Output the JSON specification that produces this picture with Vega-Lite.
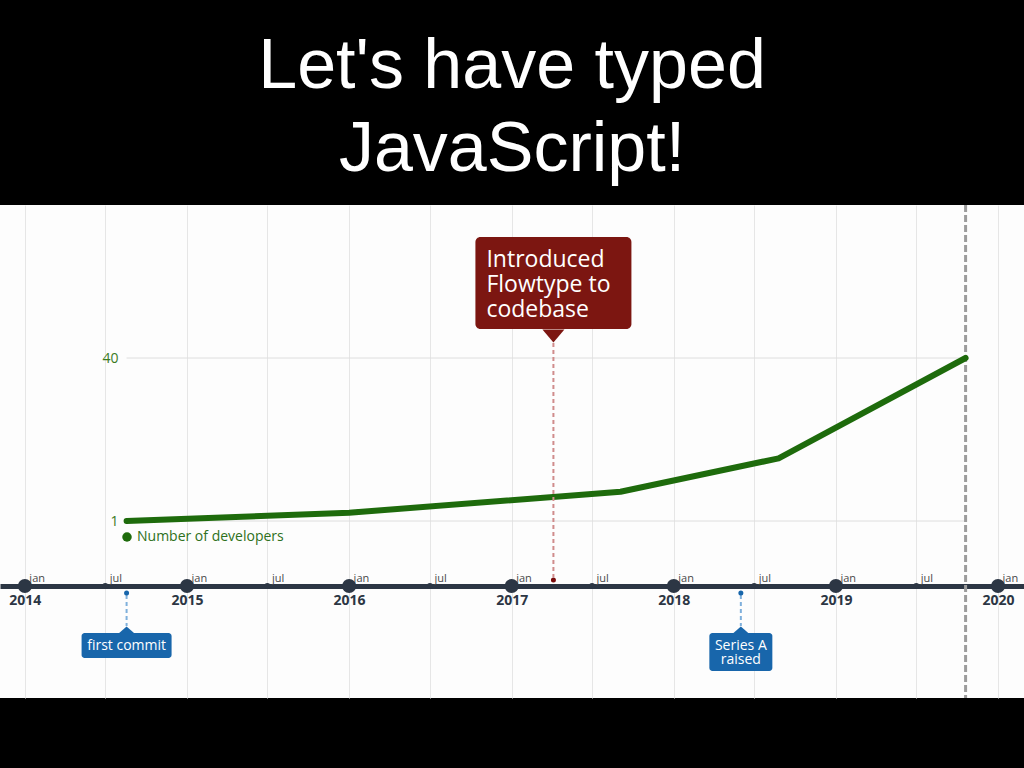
{
  "$schema": "https://vega.github.io/schema/vega-lite/v6.json",
  "width": 1024,
  "height": 493,
  "autosize": {"type": "none"},
  "padding": {"top": 205, "bottom": 70, "left": 0, "right": 0},
  "background": "#000000",
  "view": {"fill": "#fdfdfd", "stroke": null},
  "title": {
    "text": ["Let's have typed", "JavaScript!"],
    "font": "Liberation Sans",
    "fontSize": 70,
    "fontWeight": "normal",
    "color": "#ffffff",
    "anchor": "middle",
    "frame": "group",
    "lineHeight": 83,
    "baseline": "alphabetic",
    "offset": -37
  },
  "config": {"font": "Open Sans"},
  "datasets": {
    "dev": [
      {"date": "2014-08-18", "developers": 1},
      {"date": "2016-01-01", "developers": 3},
      {"date": "2017-09-03", "developers": 8},
      {"date": "2018-08-25", "developers": 16},
      {"date": "2019-10-20", "developers": 40}
    ],
    "timeline": [
      {"date": "2014-01-01", "kind": "year"},
      {"date": "2014-07-01", "kind": "half"},
      {"date": "2015-01-01", "kind": "year"},
      {"date": "2015-07-01", "kind": "half"},
      {"date": "2016-01-01", "kind": "year"},
      {"date": "2016-07-01", "kind": "half"},
      {"date": "2017-01-01", "kind": "year"},
      {"date": "2017-07-01", "kind": "half"},
      {"date": "2018-01-01", "kind": "year"},
      {"date": "2018-07-01", "kind": "half"},
      {"date": "2019-01-01", "kind": "year"},
      {"date": "2019-07-01", "kind": "half"},
      {"date": "2020-01-01", "kind": "year"}
    ],
    "events": [
      {"date": "2014-08-18", "event": "first commit", "group": "first"},
      {"date": "2017-04-05", "event": "Introduced\nFlowtype to\ncodebase", "group": "flow"},
      {"date": "2018-06-01", "event": "Series A\nraised", "group": "series"}
    ],
    "today": [{"date": "2019-10-20", "label": "now"}],
    "ygrid": [{"v": 1}, {"v": 40}]
  },
  "resolve": {"axis": {"x": "independent", "y": "independent"}},
  "layer": [
    {
      "data": {"name": "ygrid"},
      "mark": {"type": "rule", "color": "#dedede", "strokeWidth": 1},
      "encoding": {
        "x": {"datum": {"year": 2014, "month": 8, "date": 18, "utc": true}, "type": "temporal", "axis": null},
        "x2": {"datum": {"year": 2019, "month": 10, "date": 20, "utc": true}},
        "y": {"field": "v", "type": "quantitative", "axis": null}
      }
    },
    {
      "data": {"name": "today"},
      "mark": {"type": "rule", "color": "#9c9c9c", "strokeWidth": 3, "strokeDash": [7, 3]},
      "encoding": {
        "x": {"field": "date", "type": "temporal", "axis": null}
      }
    },
    {
      "data": {"name": "dev"},
      "mark": {"type": "line", "strokeWidth": 6, "strokeCap": "round", "strokeJoin": "round"},
      "encoding": {
        "x": {
          "field": "date",
          "type": "temporal",
          "scale": {"type": "utc", "domain": [{"year": 2013, "month": 11, "date": 6, "utc": true}, {"year": 2020, "month": 2, "date": 28, "hours": 12, "utc": true}]},
          "axis": {
            "orient": "bottom",
            "offset": -112,
            "values": [
              {"year": 2014, "month": 1, "date": 1, "utc": true},
              {"year": 2014, "month": 7, "date": 1, "utc": true},
              {"year": 2015, "month": 1, "date": 1, "utc": true},
              {"year": 2015, "month": 7, "date": 1, "utc": true},
              {"year": 2016, "month": 1, "date": 1, "utc": true},
              {"year": 2016, "month": 7, "date": 1, "utc": true},
              {"year": 2017, "month": 1, "date": 1, "utc": true},
              {"year": 2017, "month": 7, "date": 1, "utc": true},
              {"year": 2018, "month": 1, "date": 1, "utc": true},
              {"year": 2018, "month": 7, "date": 1, "utc": true},
              {"year": 2019, "month": 1, "date": 1, "utc": true},
              {"year": 2019, "month": 7, "date": 1, "utc": true},
              {"year": 2020, "month": 1, "date": 1, "utc": true}
            ],
            "labelExpr": "utcmonth(datum.value) == 0 ? utcFormat(datum.value, '%Y') : ''",
            "domainColor": "#2c3644",
            "domainWidth": 5,
            "ticks": false,
            "grid": true,
            "gridColor": "#e6e6e6",
            "gridWidth": 1,
            "labelFont": "Open Sans",
            "labelFontWeight": "bold",
            "labelFontSize": 14,
            "labelColor": "#2c3644",
            "labelPadding": 7,
            "labelBaseline": "top",
            "labelAlign": "center",
            "labelFlush": false,
            "labelOverlap": false,
            "title": null
          }
        },
        "y": {
          "field": "developers",
          "type": "quantitative",
          "scale": {"domain": [-41.35, 76.61], "nice": false, "zero": false},
          "axis": {
            "orient": "left",
            "offset": -123,
            "values": [1, 40],
            "domain": false,
            "ticks": false,
            "grid": false,
            "labelColor": "#3b7a1e",
            "labelFontSize": 14,
            "labelFont": "Open Sans",
            "labelPadding": 5,
            "title": null
          }
        },
        "color": {
          "datum": "Number of developers",
          "type": "nominal",
          "scale": {"range": ["#1e6b0c"]},
          "legend": {
            "orient": "none",
            "legendX": 120,
            "legendY": 325,
            "title": null,
            "symbolType": "circle",
            "symbolSize": 90,
            "labelOffset": 3,
            "labelColor": "#2e7020",
            "labelFont": "Open Sans",
            "labelFontSize": 14,
            "encode": {"symbols": {"update": {"fill": {"value": "#1e6b0c"}, "strokeWidth": {"value": 0}}}}
          }
        }
      }
    },
    {
      "data": {"name": "timeline"},
      "mark": {"type": "point", "filled": true, "opacity": 1, "color": "#2c3644"},
      "encoding": {
        "x": {
          "field": "date",
          "type": "temporal",
          "axis": {
            "orient": "top",
            "offset": -381,
            "values": [
              {"year": 2014, "month": 1, "date": 1, "utc": true},
              {"year": 2014, "month": 7, "date": 1, "utc": true},
              {"year": 2015, "month": 1, "date": 1, "utc": true},
              {"year": 2015, "month": 7, "date": 1, "utc": true},
              {"year": 2016, "month": 1, "date": 1, "utc": true},
              {"year": 2016, "month": 7, "date": 1, "utc": true},
              {"year": 2017, "month": 1, "date": 1, "utc": true},
              {"year": 2017, "month": 7, "date": 1, "utc": true},
              {"year": 2018, "month": 1, "date": 1, "utc": true},
              {"year": 2018, "month": 7, "date": 1, "utc": true},
              {"year": 2019, "month": 1, "date": 1, "utc": true},
              {"year": 2019, "month": 7, "date": 1, "utc": true},
              {"year": 2020, "month": 1, "date": 1, "utc": true}
            ],
            "labelExpr": "utcmonth(datum.value) == 0 ? 'jan' : 'jul'",
            "domain": false,
            "ticks": false,
            "grid": false,
            "labelAlign": "left",
            "labelOffset": 4,
            "labelBaseline": "alphabetic",
            "labelPadding": 5,
            "labelFontSize": 11,
            "labelColor": "#4a4a4a",
            "labelFont": "Open Sans",
            "labelFlush": false,
            "labelOverlap": false,
            "title": null
          }
        },
        "y": {"datum": -14.55, "type": "quantitative", "axis": null},
        "size": {"field": "kind", "type": "nominal", "scale": {"domain": ["year", "half"], "range": [196, 36]}, "legend": null}
      }
    },
    {
      "data": {"name": "events"},
      "transform": [{"filter": "datum.group == 'flow'"}],
      "layer": [
        {
          "mark": {"type": "rule", "color": "#d08c8c", "strokeWidth": 2, "strokeDash": [4, 3]},
          "encoding": {
            "x": {"field": "date", "type": "temporal", "axis": null},
            "y": {"datum": 43.59, "type": "quantitative", "axis": null},
            "y2": {"datum": -12.39}
          }
        },
        {
          "mark": {"type": "point", "filled": true, "opacity": 1, "size": 25, "color": "#7a0c0c"},
          "encoding": {
            "x": {"field": "date", "type": "temporal", "axis": null},
            "y": {"datum": -13.11, "type": "quantitative", "axis": null}
          }
        },
        {
          "mark": {"type": "rect", "width": 156, "height": 92, "cornerRadius": 5, "color": "#7c1611"},
          "encoding": {
            "x": {"field": "date", "type": "temporal", "axis": null},
            "y": {"datum": 57.95, "type": "quantitative", "axis": null}
          }
        },
        {
          "mark": {"type": "point", "shape": "M -1 -0.6 L 1 -0.6 L 0 0.6 Z", "filled": true, "opacity": 1, "size": 484, "color": "#7c1611"},
          "encoding": {
            "x": {"field": "date", "type": "temporal", "axis": null},
            "y": {"datum": 45.27, "type": "quantitative", "axis": null}
          }
        },
        {
          "mark": {"type": "text", "align": "left", "dx": -67, "dy": -23, "baseline": "middle", "lineBreak": "\n", "lineHeight": 25, "fontSize": 23, "color": "#ffffff", "font": "Open Sans"},
          "encoding": {
            "x": {"field": "date", "type": "temporal", "axis": null},
            "y": {"datum": 57.95, "type": "quantitative", "axis": null},
            "text": {"field": "event"}
          }
        }
      ]
    },
    {
      "data": {"name": "events"},
      "transform": [{"filter": "datum.group != 'flow'"}],
      "layer": [
        {
          "mark": {"type": "rule", "color": "#7fb0dc", "strokeWidth": 2, "strokeDash": [4, 3]},
          "encoding": {
            "x": {"field": "date", "type": "temporal", "axis": null},
            "y": {"datum": -16.7, "type": "quantitative", "axis": null},
            "y2": {"datum": -24.12}
          }
        },
        {
          "mark": {"type": "point", "filled": true, "opacity": 1, "size": 25, "color": "#1866ab"},
          "encoding": {
            "x": {"field": "date", "type": "temporal", "axis": null},
            "y": {"datum": -16.22, "type": "quantitative", "axis": null}
          }
        },
        {
          "mark": {"type": "point", "shape": "M -1 0.45 L 1 0.45 L 0 -0.45 Z", "filled": true, "opacity": 1, "size": 256, "color": "#1866ab"},
          "encoding": {
            "x": {"field": "date", "type": "temporal", "axis": null},
            "y": {"datum": -25.08, "type": "quantitative", "axis": null}
          }
        },
        {
          "transform": [{"filter": "datum.group == 'first'"}],
          "layer": [
            {
              "mark": {"type": "rect", "width": 90, "height": 25, "cornerRadius": 3, "color": "#1866ab"},
              "encoding": {
                "x": {"field": "date", "type": "temporal", "axis": null},
                "y": {"datum": -28.79, "type": "quantitative", "axis": null}
              }
            },
            {
              "mark": {"type": "text", "align": "center", "baseline": "middle", "fontSize": 14, "color": "#ffffff", "font": "Open Sans"},
              "encoding": {
                "x": {"field": "date", "type": "temporal", "axis": null},
                "y": {"datum": -28.79, "type": "quantitative", "axis": null},
                "text": {"field": "event"}
              }
            }
          ]
        },
        {
          "transform": [{"filter": "datum.group == 'series'"}],
          "layer": [
            {
              "mark": {"type": "rect", "width": 63, "height": 38, "cornerRadius": 3, "color": "#1866ab"},
              "encoding": {
                "x": {"field": "date", "type": "temporal", "axis": null},
                "y": {"datum": -30.34, "type": "quantitative", "axis": null}
              }
            },
            {
              "mark": {"type": "text", "align": "center", "baseline": "middle", "dy": -6, "lineBreak": "\n", "lineHeight": 14, "fontSize": 14, "color": "#ffffff", "font": "Open Sans"},
              "encoding": {
                "x": {"field": "date", "type": "temporal", "axis": null},
                "y": {"datum": -30.34, "type": "quantitative", "axis": null},
                "text": {"field": "event"}
              }
            }
          ]
        }
      ]
    }
  ]
}
